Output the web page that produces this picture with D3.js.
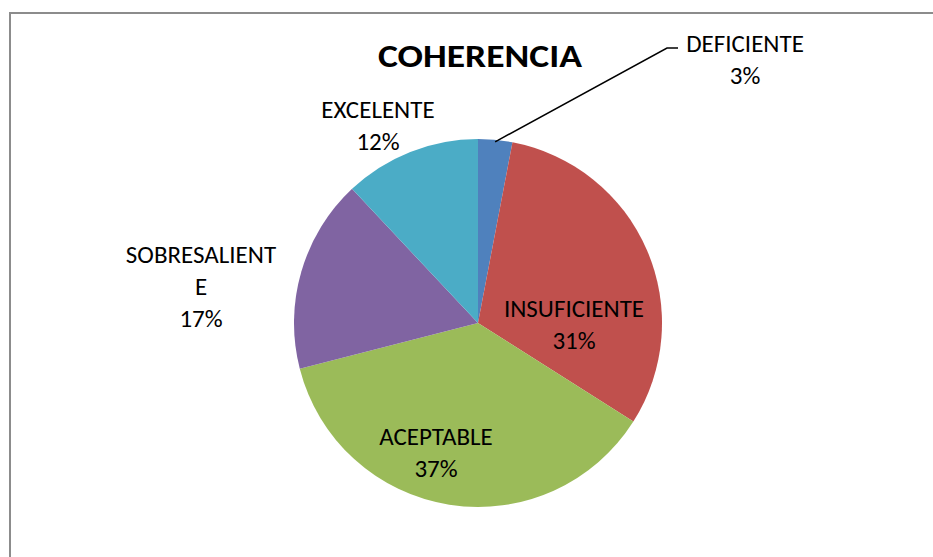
<!DOCTYPE html>
<html lang="es">
<head>
<meta charset="UTF-8">
<title>COHERENCIA</title>
<script src="https://d3js.org/d3.v7.min.js"></script>
<style>
    body{margin:0;background:#fff;}
    svg{display:block;}
    text{font-family:Carlito,Lato,"Open Sans",sans-serif;fill:#000;}
</style>
</head>
<body>
<div id="chart"></div>
<script>
    const categories=['DEFICIENTE','INSUFICIENTE','ACEPTABLE','SOBRESALIENTE','EXCELENTE'];
    const values=[3,31,37,17,12];
    const colors=['#4f81bd','#c0504d','#9bbb59','#8064a2','#4bacc6'];
    // label lines as shown in the picture (SOBRESALIENTE wraps)
    const labelLines=[['DEFICIENTE'],['INSUFICIENTE'],['ACEPTABLE'],['SOBRESALIENT','E'],['EXCELENTE']];

    const width=933,height=557;
    const cx=478,cy=323,r=184;

    const svg=d3.select('#chart').append('svg')
        .attr('width',width).attr('height',height);

    svg.append('rect')
        .attr('x',10).attr('y',13)
        .attr('width',width+10).attr('height',height+10)
        .attr('fill','#fff')
        .attr('stroke','#8c8c8c')
        .attr('stroke-width',2);

    svg.append('text')
        .text('COHERENCIA')
        .attr('x',480).attr('y',67)
        .attr('text-anchor','middle')
        .attr('font-weight','bold')
        .attr('font-size',33)
        .attr('textLength',204)
        .attr('lengthAdjust','spacingAndGlyphs');

    const data=categories.map((c,i)=>({cat:c,value:values[i],color:colors[i],lines:labelLines[i]}));
    const pie=d3.pie().sort(null).value(d=>d.value);
    const arcs=pie(data);
    const arc=d3.arc().innerRadius(0).outerRadius(r);

    const g=svg.append('g').attr('transform',`translate(${cx},${cy})`);
    g.selectAll('path')
        .data(arcs)
        .join('path')
        .attr('d',arc)
        .attr('fill',d=>d.data.color);

    // label anchors (center of text block), relative to pie center
    const labelPos=[[267,-263],[96,2],[-42,130],[-277,-36],[-100,-197]];
    const fs=25,lh=32;

    arcs.forEach((a,i)=>{
        const lines=a.data.lines.concat([Math.round(a.data.value)+'%']);
        const [lx,ly]=labelPos[i];
        const t=g.append('text')
            .attr('text-anchor','middle')
            .attr('font-size',fs);
        lines.forEach((s,j)=>{
            t.append('tspan')
                .attr('x',lx)
                .attr('y',ly+(j-(lines.length-1)/2)*lh+8.4)
                .text(s);
        });
    });

    // leader line for the small slice
    const a0=arcs[0];
    const mid=(a0.startAngle+a0.endAngle)/2;
    const p0=[Math.sin(mid)*(r-2),-Math.cos(mid)*(r-2)];
    g.append('polyline')
        .attr('points',[p0,[189,-275],[200,-275]].map(p=>p.join(',')).join(' '))
        .attr('fill','none')
        .attr('stroke','#000')
        .attr('stroke-width',1.5);
</script>
</body>
</html>
